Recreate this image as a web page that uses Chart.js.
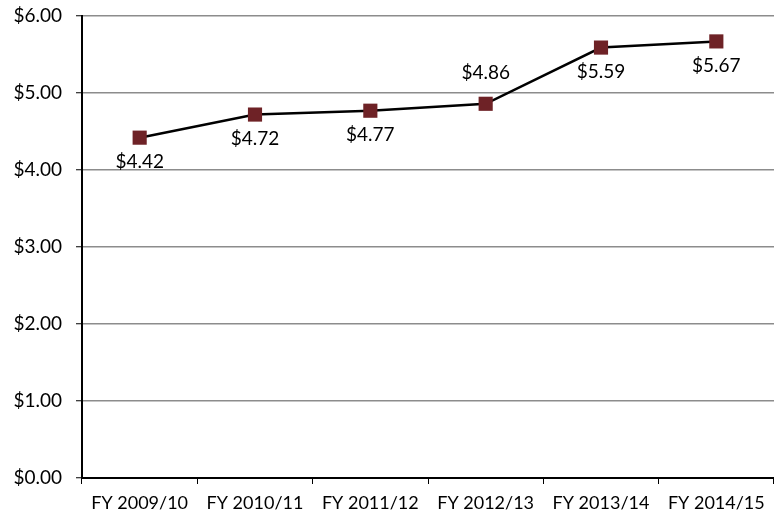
<!DOCTYPE html>
<html><head><meta charset="utf-8">
<script src="https://cdn.jsdelivr.net/npm/chart.js@4"></script>
<style>html,body{margin:0;padding:0;background:#fff}#wrap{width:774px;height:516px}</style>
</head><body><div id="wrap"><canvas id="c" width="774" height="516"></canvas></div>
<script>
const categories = ["FY 2009/10","FY 2010/11","FY 2011/12","FY 2012/13","FY 2013/14","FY 2014/15"];
const values = [4.42, 4.72, 4.77, 4.86, 5.59, 5.67];
const labelAbove = [false, false, false, true, false, false];
const FONT = "Lato, 'Open Sans', sans-serif";

const dataLabels = {
  id: 'dataLabels',
  afterDatasetsDraw(chart) {
    const ctx = chart.ctx;
    const meta = chart.getDatasetMeta(0);
    ctx.save();
    ctx.font = "19px " + FONT;
    ctx.fillStyle = "#000";
    ctx.textAlign = "center";
    ctx.textBaseline = "middle";
    meta.data.forEach((pt, i) => {
      const dy = labelAbove[i] ? -31 : 24;
      ctx.fillText("$" + values[i].toFixed(2), pt.x, pt.y + dy);
    });
    ctx.restore();
  }
};

new Chart(document.getElementById('c'), {
  type: 'line',
  data: {
    labels: categories,
    datasets: [{
      data: values,
      borderColor: '#000',
      borderWidth: 2.5,
      pointStyle: 'rect',
      pointRadius: 10,
      pointHoverRadius: 10,
      pointBackgroundColor: '#6e2226',
      pointBorderColor: '#6e2226',
      pointBorderWidth: 0,
      tension: 0
    }]
  },
  options: {
    responsive: false,
    animation: false,
    devicePixelRatio: 1,
    plugins: { legend: { display: false }, tooltip: { enabled: false } },
    layout: { autoPadding: false, padding: { top: 16, right: 0, left: 0, bottom: 0 } },
    scales: {
      x: {
        offset: true,
        grid: { display: true, offset: true, drawOnChartArea: false, tickLength: 6, color: '#000', tickWidth: 1 },
        border: { color: '#000', width: 2 },
        ticks: { color: '#000', font: { family: FONT, size: 18 }, padding: 8, maxRotation: 0, autoSkip: false },
        afterFit(s) { s.height = 38; s.paddingLeft = 0; s.paddingRight = 0; }
      },
      y: {
        min: 0, max: 6,
        grid: { color: '#8c8c8c', lineWidth: 1.5, tickLength: 6, tickColor: '#000', tickWidth: 1 },
        border: { color: '#000', width: 2 },
        ticks: { stepSize: 1, color: '#000', font: { family: FONT, size: 19 }, padding: 14,
          callback: v => '$' + Number(v).toFixed(2) },
        afterFit(s) { s.width = 82; s.paddingTop = 0; s.paddingBottom = 0; }
      }
    }
  },
  plugins: [dataLabels]
});
</script></body></html>
